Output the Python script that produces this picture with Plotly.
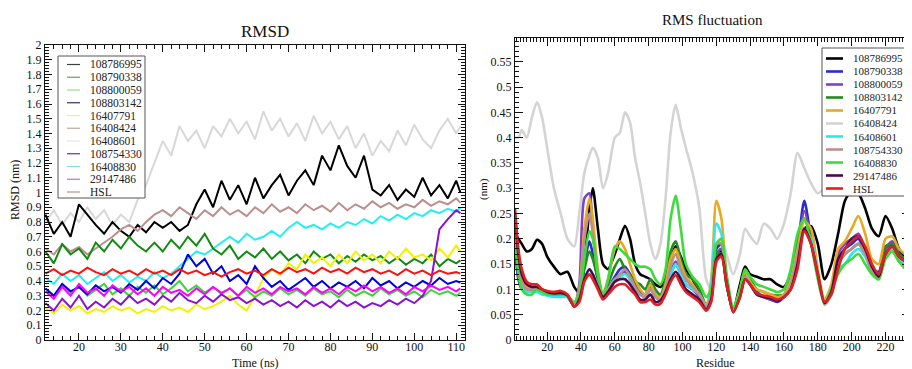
import plotly.graph_objects as go

# ---------------- data: RMSD (left) ----------------
TIME_NS = list(range(12, 111, 2)) + [111]
RMSD_NAMES = ["108786995", "108790338", "108800059", "108803142", "16407791", "16408424",
              "16408601", "108754330", "16408830", "29147486", "HSL"]
rmsd_108786995 = [0.85,0.72,0.80,0.70,0.92,0.85,0.78,0.72,0.80,0.74, 0.70,0.78,0.73,0.80,0.76,0.80,0.74,0.78,0.92,1.02,
                  0.90,1.08,0.95,1.05,0.92,1.10,0.96,1.05,1.12,0.98, 1.08,1.15,1.05,1.25,1.15,1.32,1.18,1.10,1.25,1.02,
                  0.98,1.05,0.95,1.02,0.97,1.10,0.98,1.05,0.96,1.08, 1.00]
rmsd_108790338 = [0.60,0.52,0.65,0.58,0.62,0.55,0.66,0.60,0.68,0.62, 0.70,0.64,0.60,0.66,0.60,0.68,0.62,0.70,0.64,0.72,
                  0.62,0.58,0.64,0.55,0.60,0.56,0.62,0.55,0.60,0.54, 0.58,0.52,0.60,0.55,0.58,0.52,0.57,0.53,0.58,0.54,
                  0.57,0.52,0.56,0.51,0.55,0.52,0.58,0.50,0.55,0.52, 0.54]
rmsd_108800059 = [0.35,0.30,0.38,0.32,0.36,0.30,0.34,0.38,0.31,0.35, 0.30,0.36,0.32,0.37,0.31,0.35,0.40,0.33,0.37,0.32,
                  0.36,0.31,0.35,0.30,0.34,0.29,0.33,0.30,0.35,0.31, 0.34,0.30,0.35,0.31,0.33,0.29,0.34,0.30,0.33,0.30,
                  0.35,0.31,0.34,0.30,0.33,0.29,0.34,0.31,0.33,0.30, 0.32]
rmsd_108803142 = [0.35,0.30,0.38,0.33,0.36,0.31,0.37,0.33,0.36,0.32, 0.38,0.34,0.40,0.35,0.42,0.38,0.45,0.58,0.50,0.55,
                  0.45,0.50,0.40,0.44,0.38,0.50,0.42,0.36,0.40,0.34, 0.38,0.42,0.36,0.40,0.35,0.39,0.36,0.40,0.35,0.42,
                  0.37,0.40,0.35,0.39,0.36,0.40,0.37,0.42,0.38,0.40, 0.39]
rmsd_16407791 = [0.22,0.18,0.24,0.20,0.23,0.18,0.21,0.19,0.23,0.20, 0.22,0.18,0.21,0.19,0.23,0.20,0.22,0.19,0.24,0.21,
                 0.23,0.26,0.30,0.24,0.20,0.30,0.42,0.48,0.44,0.52, 0.48,0.58,0.52,0.56,0.50,0.58,0.52,0.60,0.54,0.58,
                 0.52,0.60,0.55,0.62,0.56,0.58,0.54,0.62,0.56,0.64, 0.60]
rmsd_16408424 = [0.45,0.48,0.44,0.47,0.45,0.49,0.46,0.44,0.48,0.45, 0.47,0.44,0.48,0.45,0.47,0.44,0.48,0.45,0.47,0.44,
                 0.46,0.43,0.46,0.48,0.45,0.47,0.44,0.48,0.45,0.49, 0.46,0.48,0.45,0.49,0.46,0.48,0.45,0.49,0.46,0.48,
                 0.45,0.47,0.44,0.48,0.45,0.47,0.44,0.47,0.45,0.46, 0.45]
rmsd_16408601 = [0.80,0.88,0.78,0.86,0.80,0.90,0.82,0.88,0.78,0.85, 0.80,0.95,1.05,1.20,1.35,1.25,1.45,1.35,1.42,1.30,
                 1.45,1.38,1.50,1.40,1.48,1.36,1.55,1.42,1.50,1.38, 1.47,1.35,1.52,1.40,1.48,1.36,1.45,1.30,1.40,1.25,
                 1.35,1.28,1.42,1.32,1.46,1.36,1.30,1.42,1.50,1.40, 1.45]
rmsd_108754330 = [0.25,0.20,0.28,0.22,0.30,0.21,0.26,0.22,0.28,0.24, 0.30,0.25,0.28,0.24,0.30,0.26,0.32,0.27,0.25,0.30,
                  0.26,0.31,0.27,0.29,0.25,0.28,0.24,0.27,0.23,0.26, 0.22,0.27,0.23,0.26,0.22,0.27,0.23,0.26,0.22,0.25,
                  0.23,0.27,0.24,0.28,0.25,0.30,0.40,0.75,0.82,0.88, 0.86]
rmsd_16408830 = [0.42,0.38,0.45,0.40,0.44,0.38,0.42,0.46,0.40,0.44, 0.39,0.43,0.40,0.46,0.42,0.45,0.50,0.55,0.60,0.58,
                 0.62,0.66,0.70,0.66,0.72,0.68,0.70,0.74,0.70,0.76, 0.80,0.76,0.78,0.75,0.79,0.76,0.80,0.78,0.82,0.79,
                 0.84,0.81,0.85,0.82,0.86,0.84,0.88,0.86,0.89,0.87, 0.90]
rmsd_29147486 = [0.33,0.28,0.36,0.30,0.38,0.32,0.35,0.30,0.37,0.33, 0.36,0.31,0.35,0.30,0.36,0.32,0.34,0.30,0.35,0.31,
                 0.36,0.32,0.35,0.30,0.36,0.32,0.35,0.31,0.36,0.33, 0.35,0.31,0.36,0.32,0.35,0.31,0.36,0.33,0.37,0.33,
                 0.36,0.32,0.35,0.31,0.36,0.33,0.37,0.34,0.36,0.33, 0.35]
rmsd_HSL = [0.62,0.58,0.65,0.60,0.63,0.58,0.62,0.66,0.70,0.75, 0.78,0.74,0.80,0.85,0.88,0.84,0.90,0.86,0.82,0.88,
            0.84,0.90,0.85,0.88,0.84,0.90,0.86,0.92,0.87,0.90, 0.86,0.92,0.88,0.91,0.87,0.93,0.88,0.92,0.89,0.94,
            0.90,0.93,0.89,0.92,0.90,0.95,0.91,0.94,0.92,0.96, 0.93]
RMSD_VALUES = [rmsd_108786995, rmsd_108790338, rmsd_108800059, rmsd_108803142, rmsd_16407791, rmsd_16408424,
               rmsd_16408601, rmsd_108754330, rmsd_16408830, rmsd_29147486, rmsd_HSL]
RMSD_COLORS = ["#000000", "#128a12", "#3cd43c", "#0000e0", "#f2f200", "#ff1010",
               "#d8d8d8", "#8b10d0", "#20f0f0", "#ff00ff", "#bc8f8f"]
RMSD_LEGEND_SWATCH = ["#404040", "#60a060", "#90e090", "#303060", "#f0f080", "#b8aca0",
                      "#e4e4e4", "#703080", "#80e0e0", "#c070d0", "#c09090"]
RMSD_DRAW_ORDER = [6, 0, 10, 8, 1, 4, 2, 3, 7, 9, 5]

# ---------------- data: RMSF (right) ----------------
RESIDUE = [1,3,5,8,11,14,17,20,24,28,32,36,39,42,45,47,50,53,56,60,63,66,69,72,75,78,81,84,87,90,93,96,
           99,102,106,110,114,117,120,123,126,130,134,137,140,144,148,152,156,160,164,168,172,176,180,184,
           188,192,196,200,204,208,212,216,220,224,228,232,235]
RMSF_NAMES = ["108786995", "108790338", "108800059", "108803142", "16407791", "16408424",
              "16408601", "108754330", "16408830", "29147486", "HSL"]
rmsf_108786995 = [0.21,0.20,0.19,0.175,0.18,0.198,0.19,0.165, 0.145,0.13,0.135,0.105,0.093,0.15,0.26,0.30,
                  0.22,0.15,0.14,0.17,0.20,0.226,0.20,0.15, 0.13,0.125,0.12,0.11,0.105,0.12,0.16,0.185,
                  0.165,0.14,0.12,0.09,0.062,0.09,0.17,0.175, 0.11,0.06,0.11,0.145,0.13,0.125,0.12,0.12,
                  0.11,0.105,0.13,0.18,0.22,0.225,0.19,0.12, 0.15,0.21,0.275,0.295,0.29,0.26,0.22,0.205,
                  0.245,0.22,0.18,0.16,0.24]
rmsf_108790338 = [0.18,0.12,0.10,0.095,0.10,0.10,0.095,0.09, 0.09,0.09,0.085,0.068,0.08,0.15,0.195,0.17,
                  0.12,0.085,0.10,0.125,0.14,0.145,0.13,0.11, 0.095,0.09,0.11,0.09,0.085,0.10,0.13,0.15,
                  0.13,0.11,0.10,0.085,0.065,0.085,0.18,0.19, 0.12,0.06,0.09,0.13,0.115,0.095,0.085,0.08,
                  0.075,0.085,0.11,0.18,0.275,0.20,0.13,0.075, 0.10,0.16,0.18,0.19,0.20,0.17,0.14,0.135,
                  0.18,0.19,0.17,0.16,0.16]
rmsf_108800059 = [0.20,0.15,0.12,0.10,0.10,0.10,0.095,0.09, 0.09,0.092,0.088,0.07,0.11,0.28,0.29,0.22,
                  0.12,0.085,0.095,0.12,0.13,0.135,0.12,0.10, 0.09,0.085,0.105,0.085,0.08,0.10,0.135,0.155,
                  0.13,0.11,0.10,0.085,0.062,0.08,0.17,0.18, 0.12,0.058,0.09,0.125,0.11,0.09,0.085,0.08,
                  0.078,0.085,0.11,0.17,0.255,0.20,0.13,0.075, 0.10,0.17,0.19,0.20,0.21,0.18,0.145,0.13,
                  0.18,0.195,0.17,0.16,0.16]
rmsf_108803142 = [0.21,0.16,0.12,0.10,0.098,0.10,0.095,0.092, 0.09,0.09,0.085,0.072,0.09,0.14,0.175,0.16,
                  0.12,0.09,0.11,0.145,0.16,0.14,0.13,0.115, 0.11,0.10,0.12,0.10,0.09,0.12,0.175,0.195,
                  0.16,0.13,0.12,0.10,0.07,0.09,0.17,0.17, 0.11,0.06,0.10,0.14,0.12,0.10,0.095,0.09,
                  0.088,0.09,0.13,0.20,0.24,0.20,0.13,0.075, 0.09,0.15,0.17,0.18,0.19,0.17,0.14,0.13,
                  0.185,0.19,0.17,0.16,0.165]
rmsf_16407791 = [0.24,0.16,0.12,0.105,0.105,0.11,0.10,0.095, 0.095,0.095,0.09,0.07,0.10,0.22,0.28,0.24,
                 0.14,0.09,0.12,0.18,0.195,0.18,0.15,0.12, 0.10,0.09,0.11,0.09,0.085,0.11,0.16,0.18,
                 0.15,0.125,0.11,0.09,0.07,0.12,0.275,0.24, 0.13,0.06,0.10,0.135,0.115,0.10,0.095,0.09,
                 0.085,0.09,0.12,0.18,0.235,0.22,0.14,0.08, 0.11,0.18,0.195,0.22,0.245,0.21,0.16,0.15,
                 0.20,0.205,0.18,0.17,0.17]
rmsf_16408424 = [0.40,0.40,0.415,0.40,0.44,0.47,0.44,0.38, 0.30,0.25,0.20,0.185,0.25,0.33,0.365,0.38,
                 0.36,0.30,0.33,0.40,0.41,0.45,0.43,0.36, 0.31,0.25,0.19,0.16,0.19,0.28,0.41,0.465,
                 0.42,0.38,0.33,0.26,0.12,0.10,0.15,0.20, 0.17,0.13,0.17,0.22,0.205,0.19,0.23,0.22,
                 0.20,0.23,0.29,0.37,0.34,0.31,0.29,0.30, 0.31,0.33,0.35,0.36,0.37,0.36,0.35,0.36,
                 0.37,0.36,0.35,0.36,0.36]
rmsf_16408601 = [0.22,0.14,0.11,0.095,0.095,0.095,0.09,0.088, 0.085,0.085,0.085,0.07,0.09,0.12,0.14,0.13,
                 0.11,0.09,0.10,0.12,0.125,0.13,0.12,0.10, 0.09,0.085,0.10,0.085,0.08,0.10,0.13,0.15,
                 0.13,0.11,0.10,0.09,0.065,0.11,0.23,0.21, 0.12,0.058,0.09,0.125,0.11,0.09,0.085,0.082,
                 0.08,0.085,0.11,0.17,0.22,0.20,0.13,0.072, 0.10,0.14,0.15,0.17,0.18,0.165,0.135,0.125,
                 0.17,0.18,0.16,0.15,0.15]
rmsf_108754330 = [0.23,0.15,0.115,0.10,0.10,0.10,0.095,0.09, 0.09,0.09,0.088,0.07,0.10,0.20,0.25,0.21,
                  0.13,0.088,0.10,0.12,0.13,0.14,0.125,0.105, 0.09,0.085,0.10,0.085,0.08,0.10,0.145,0.17,
                  0.14,0.12,0.105,0.09,0.065,0.09,0.19,0.19, 0.12,0.058,0.09,0.125,0.11,0.09,0.085,0.082,
                  0.08,0.085,0.11,0.17,0.22,0.19,0.125,0.07, 0.09,0.15,0.17,0.18,0.19,0.17,0.135,0.12,
                  0.165,0.175,0.155,0.145,0.14]
rmsf_16408830 = [0.20,0.13,0.10,0.09,0.09,0.10,0.095,0.09, 0.09,0.09,0.088,0.075,0.09,0.16,0.215,0.20,
                 0.13,0.09,0.12,0.185,0.18,0.17,0.16,0.15, 0.145,0.145,0.14,0.12,0.11,0.14,0.24,0.285,
                 0.22,0.15,0.125,0.11,0.085,0.10,0.19,0.20, 0.13,0.065,0.10,0.14,0.125,0.11,0.105,0.10,
                 0.095,0.10,0.14,0.21,0.24,0.19,0.12,0.072, 0.10,0.13,0.15,0.16,0.17,0.15,0.13,0.12,
                 0.16,0.175,0.155,0.14,0.14]
rmsf_29147486 = [0.25,0.17,0.13,0.11,0.105,0.105,0.10,0.095, 0.092,0.093,0.088,0.066,0.08,0.12,0.14,0.13,
                 0.105,0.085,0.095,0.115,0.12,0.12,0.11,0.095, 0.08,0.08,0.09,0.075,0.078,0.095,0.12,0.135,
                 0.12,0.10,0.09,0.08,0.06,0.08,0.16,0.17, 0.115,0.055,0.085,0.12,0.11,0.09,0.085,0.082,
                 0.078,0.085,0.10,0.15,0.22,0.19,0.13,0.073, 0.095,0.16,0.18,0.20,0.205,0.18,0.145,0.125,
                 0.17,0.185,0.165,0.155,0.15]
rmsf_HSL = [0.26,0.18,0.14,0.115,0.11,0.11,0.10,0.097, 0.095,0.097,0.09,0.066,0.075,0.115,0.13,0.12,
            0.10,0.08,0.09,0.105,0.11,0.11,0.10,0.09, 0.075,0.075,0.08,0.07,0.072,0.09,0.115,0.128,
            0.11,0.095,0.085,0.075,0.058,0.075,0.155,0.165, 0.115,0.055,0.085,0.12,0.11,0.092,0.088,0.085,
            0.08,0.085,0.10,0.14,0.215,0.19,0.13,0.075, 0.09,0.14,0.18,0.195,0.205,0.185,0.15,0.13,
            0.17,0.185,0.165,0.155,0.15]
RMSF_VALUES = [rmsf_108786995, rmsf_108790338, rmsf_108800059, rmsf_108803142, rmsf_16407791, rmsf_16408424,
               rmsf_16408601, rmsf_108754330, rmsf_16408830, rmsf_29147486, rmsf_HSL]
RMSF_COLORS = ["#000000", "#2c2cc8", "#8040c8", "#228b22", "#e8a820", "#d4d4d4",
               "#30e4f0", "#bc8f8f", "#3cdc3c", "#4a0a48", "#e02020"]
RMSF_DRAW_ORDER = [5, 0, 1, 2, 3, 4, 6, 7, 8, 9, 10]

# ---------------- layout geometry ----------------
# the page body has an 8 px margin, so the figure is drawn 8 px in from the window's corner;
# all positions below are given in window pixels and converted.
OFF = 8
W, H = 912 - OFF, 369 - OFF
ML, MR, MT, MB = 45 - OFF, 2, 38 - OFF, 29
PW, PH = W - ML - MR, H - MT - MB
def fx(px): return (px - OFF - ML) / PW
def fy(py): return (H - MB - (py - OFF)) / PH

SERIF = "Liberation Serif"
fig = go.Figure()

for i in RMSD_DRAW_ORDER:
    fig.add_trace(go.Scatter(x=TIME_NS, y=RMSD_VALUES[i], mode="lines", name=RMSD_NAMES[i],
                             line=dict(color=RMSD_COLORS[i], width=2), showlegend=False,
                             xaxis="x", yaxis="y"))
for i in RMSF_DRAW_ORDER:
    fig.add_trace(go.Scatter(x=RESIDUE, y=RMSF_VALUES[i], mode="lines", name=RMSF_NAMES[i],
                             line=dict(color=RMSF_COLORS[i], width=2.6, shape="spline", smoothing=0.7),
                             showlegend=False, xaxis="x2", yaxis="y2"))

axis_common = dict(showline=True, linecolor="#111", linewidth=1, mirror="allticks", ticks="inside",
                   tickcolor="#111", showgrid=False, zeroline=False,
                   tickfont=dict(family=SERIF, size=12, color="#111"))

shapes, annotations = [], []

# compact legends, like the original
def add_legend(names, colors, box, y_first, step, line_x, text_x, lw, fsize):
    x0, y0, x1, y1 = box
    shapes.append(dict(type="rect", xref="paper", yref="paper", x0=fx(x0), x1=fx(x1), y0=fy(y0), y1=fy(y1),
                       line=dict(color="#555", width=1), fillcolor="white", layer="above"))
    for k, (n, c) in enumerate(zip(names, colors)):
        yy = y_first + k * step
        shapes.append(dict(type="line", xref="paper", yref="paper", x0=fx(line_x[0]), x1=fx(line_x[1]),
                           y0=fy(yy), y1=fy(yy), line=dict(color=c, width=lw), layer="above"))
        annotations.append(dict(text=n, xref="paper", yref="paper", x=fx(text_x), y=fy(yy),
                                xanchor="left", yanchor="middle", showarrow=False,
                                font=dict(family=SERIF, size=fsize, color="#222")))

add_legend(RMSD_NAMES, RMSD_LEGEND_SWATCH, (58, 56, 145, 198), 64.5, 12.75, (67, 80), 88, 1.2, 11.5)
add_legend(RMSF_NAMES, RMSF_COLORS, (822, 48, 906, 196), 58.5, 13.0, (826, 843), 851, 2.6, 11)

def ann(text, px, py, size, angle=0):
    annotations.append(dict(text=text, xref="paper", yref="paper", x=fx(px), y=fy(py), xanchor="center",
                            yanchor="middle", showarrow=False, textangle=angle,
                            font=dict(family=SERIF, size=size, color="#111")))

ann("RMSD", 265, 31, 17)
ann("RMS fluctuation", 712, 20, 15)
ann("Time (ns)", 255, 363, 12)
ann("Residue", 715, 363, 12)
ann("RMSD (nm)", 15, 190, 12, -90)
ann("(nm)", 483, 189, 11, -90)

fig.update_layout(
    width=W, height=H, margin=dict(l=ML, r=MR, t=MT, b=MB),
    paper_bgcolor="white", plot_bgcolor="white", showlegend=False,
    xaxis=dict(domain=[0, fx(465)], range=[11.9, 112.1], dtick=10, tick0=0, ticklen=7, ticklabelstandoff=-4,
               minor=dict(ticks="inside", dtick=2, ticklen=4, tickcolor="#111"), anchor="y", **axis_common),
    yaxis=dict(domain=[0, fy(45)], range=[0, 2], dtick=0.1, tick0=0, ticklen=7,
               minor=dict(ticks="inside", dtick=0.02, ticklen=4, tickcolor="#111"), anchor="x", **axis_common),
    xaxis2=dict(domain=[fx(515), fx(910)], range=[1, 234.5], dtick=20, tick0=0, ticklen=8, ticklabelstandoff=-4,
                minor=dict(ticks="inside", dtick=2, ticklen=4, tickcolor="#111"), anchor="y2", **axis_common),
    yaxis2=dict(domain=[0, 1], range=[0, 0.597], dtick=0.05, tick0=0, ticklen=8,
                minor=dict(ticks="inside", dtick=0.01, ticklen=4, tickcolor="#111"), anchor="x2", **axis_common),
    shapes=shapes, annotations=annotations,
)

fig.write_html("out.html")
